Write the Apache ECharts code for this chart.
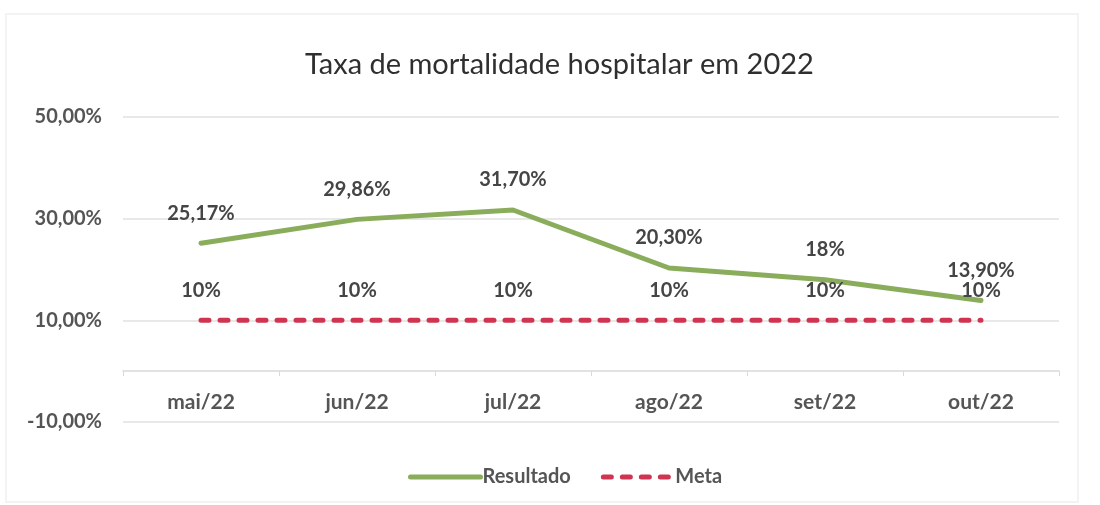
<!DOCTYPE html>
<html>
<head>
<meta charset="utf-8">
<script src="https://cdn.jsdelivr.net/npm/echarts@6/dist/echarts.min.js"></script>
<style>
  html, body { margin: 0; padding: 0; background: #fff; }
  #main { width: 1100px; height: 505px; }
</style>
</head>
<body>
<div id="main"></div>
<script>
var meses = ['mai/22', 'jun/22', 'jul/22', 'ago/22', 'set/22', 'out/22']
var resultado = [25.17, 29.86, 31.70, 20.30, 18, 13.90]
var meta = [10, 10, 10, 10, 10, 10]
var yTicks = { min: -10, max: 50, interval: 20 }

var chart = echarts.init(document.getElementById('main'))
var font = 'Lato'
var textCor = '#454545'
var eixoCor = '#555555'
var verde = '#8aad5c'
var vermelho = '#cf3450'

// rótulo no formato brasileiro
function pct(v) {
  if (Math.round(v) === v) return v + '%'
  return v.toFixed(2).replace('.', ',') + '%'
}

var option = {
  backgroundColor: '#fff',
  graphic: [{
    type: 'rect',
    shape: { x: 6, y: 14, width: 1072, height: 488 },
    style: { fill: 'none', stroke: '#f0f0f0', lineWidth: 1.5 },
    silent: true
  }],
  title: {
    text: 'Taxa de mortalidade hospitalar em 2022',
    left: 300,
    top: 45,
    textStyle: { fontFamily: font, fontSize: 29, fontWeight: 'normal', color: '#2f2f2f' }
  },
  legend: {
    left: 403,
    top: 462,
    itemWidth: 70,
    itemHeight: 14,
    itemGap: 30,
    itemStyle: { opacity: 0 },
    textStyle: { fontFamily: font, fontSize: 20, fontWeight: 'bold', color: eixoCor, padding: [0, 0, 0, -3] },
    data: [
      { name: 'Resultado', lineStyle: { width: 5, color: verde } },
      { name: 'Meta', lineStyle: { width: 5, color: vermelho, type: [8, 11], cap: 'round' } }
    ]
  },
  grid: { left: 123, right: 41, top: 117, bottom: 83 },
  xAxis: {
    type: 'category',
    data: meses,
    boundaryGap: true,
    axisLine: { onZero: true, lineStyle: { color: '#d9d9d9', width: 1.5 } },
    axisTick: { show: true, length: 5, lineStyle: { color: '#d9d9d9' } },
    axisLabel: { margin: -30, fontFamily: font, fontSize: 21, fontWeight: 'bold', color: eixoCor }
  },
  yAxis: {
    type: 'value',
    min: yTicks.min,
    max: yTicks.max,
    interval: yTicks.interval,
    axisLine: { show: false },
    axisTick: { show: false },
    axisLabel: {
      margin: 21,
      fontFamily: font,
      fontSize: 20,
      fontWeight: 'bold',
      color: eixoCor,
      formatter: function (v) { return v.toFixed(2).replace('.', ',') + '%' }
    },
    splitLine: { lineStyle: { color: '#e0e0e0', width: 1.5 } }
  },
  series: [
    {
      name: 'Resultado',
      type: 'line',
      data: resultado,
      symbol: 'circle',
      symbolSize: 0,
      lineStyle: { color: verde, width: 5, cap: 'round' },
      itemStyle: { color: verde },
      label: {
        show: true,
        position: 'top',
        distance: 20,
        fontFamily: font,
        fontSize: 20,
        fontWeight: 'bold',
        color: textCor,
        formatter: function (p) { return pct(p.value) }
      }
    },
    {
      name: 'Meta',
      type: 'line',
      data: meta,
      symbol: 'circle',
      symbolSize: 0,
      lineStyle: { color: vermelho, width: 5, type: [8, 11], cap: 'round' },
      itemStyle: { color: vermelho },
      label: {
        show: true,
        position: 'top',
        distance: 20,
        fontFamily: font,
        fontSize: 20,
        fontWeight: 'bold',
        color: textCor,
        formatter: function (p) { return pct(p.value) }
      }
    }
  ]
}

chart.setOption(option)
</script>
</body>
</html>
